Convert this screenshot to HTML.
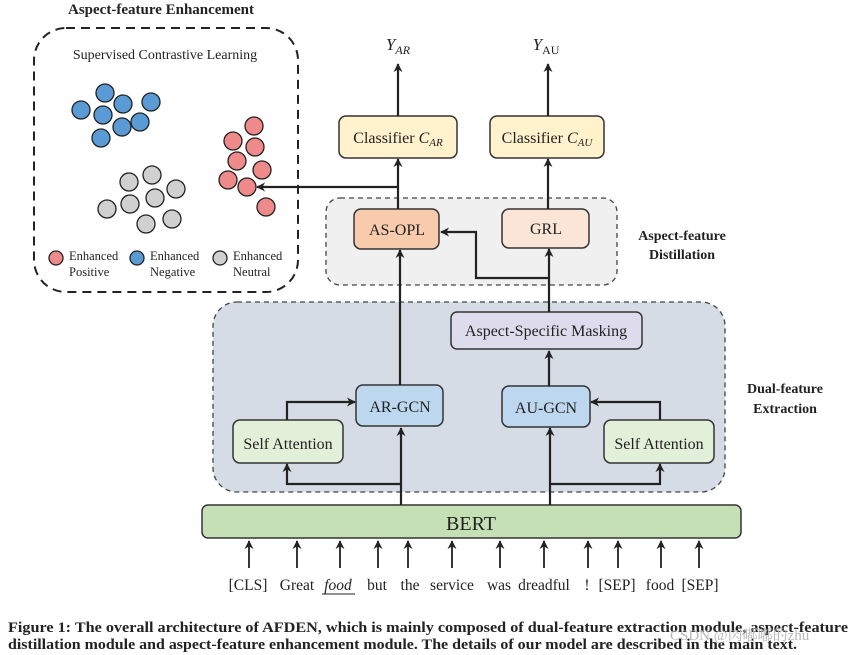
<!DOCTYPE html>
<html><head><meta charset="utf-8"><style>
html,body{margin:0;padding:0;background:#fff;}
svg{display:block;}
text{font-family:"Liberation Serif","Noto Serif CJK SC",serif;fill:#222;}
</style></head><body>
<svg width="854" height="655" viewBox="0 0 854 655" xmlns="http://www.w3.org/2000/svg">
<defs>
<marker id="ah" viewBox="0 0 10 10" refX="9" refY="5" markerWidth="9" markerHeight="9" markerUnits="userSpaceOnUse" orient="auto">
<path d="M0,0 L10,5 L0,10 L3,5 z" fill="#222"/></marker>
</defs>
<text x="161" y="14" text-anchor="middle" font-weight="bold" font-size="15">Aspect-feature Enhancement</text>
<rect x="34" y="28" width="264" height="264" rx="32" fill="none" stroke="#222" stroke-width="2" stroke-dasharray="9,6"/>
<text x="165" y="59" text-anchor="middle" font-size="14">Supervised Contrastive Learning</text>
<g stroke="#222" stroke-width="1.3">
<g fill="#5b9bd5">
<circle cx="81" cy="110" r="9"/><circle cx="105" cy="93" r="9"/><circle cx="123" cy="104" r="9"/><circle cx="151" cy="102" r="9"/><circle cx="103" cy="115" r="9"/><circle cx="122" cy="127" r="9"/><circle cx="140" cy="122" r="9"/><circle cx="101" cy="138" r="9"/>
</g>
<g fill="#d0d0d0">
<circle cx="129" cy="182" r="9"/><circle cx="152" cy="175" r="9"/><circle cx="176" cy="189" r="9"/><circle cx="155" cy="198" r="9"/><circle cx="130" cy="204" r="9"/><circle cx="107" cy="209" r="9"/><circle cx="172" cy="219" r="9"/><circle cx="146" cy="224" r="9"/>
</g>
<g fill="#ee8a8a">
<circle cx="254" cy="126" r="9"/><circle cx="233" cy="141" r="9"/><circle cx="255" cy="147" r="9"/><circle cx="237" cy="161" r="9"/><circle cx="262" cy="170" r="9"/><circle cx="228" cy="180" r="9"/><circle cx="247" cy="187" r="9"/><circle cx="266" cy="207" r="9"/>
</g>
<circle cx="56" cy="258" r="7" fill="#ee8a8a"/><circle cx="137" cy="258" r="7" fill="#5b9bd5"/><circle cx="220" cy="258" r="7" fill="#d0d0d0"/>
</g>
<g font-size="12.5">
<text x="69" y="260">Enhanced</text><text x="69" y="276">Positive</text>
<text x="150" y="260">Enhanced</text><text x="150" y="276">Negative</text>
<text x="233" y="260">Enhanced</text><text x="233" y="276">Neutral</text>
</g>
<rect x="326" y="198" width="291" height="87" rx="14" fill="#f0f0f0" stroke="#444" stroke-width="1.3" stroke-dasharray="5,4"/>
<text x="682" y="240" text-anchor="middle" font-weight="bold" font-size="14">Aspect-feature</text>
<text x="682" y="259" text-anchor="middle" font-weight="bold" font-size="14">Distillation</text>
<rect x="213" y="302" width="512" height="190" rx="24" fill="#d6dce5" stroke="#444" stroke-width="1.3" stroke-dasharray="5,4"/>
<text x="785" y="393" text-anchor="middle" font-weight="bold" font-size="14">Dual-feature</text>
<text x="785" y="413" text-anchor="middle" font-weight="bold" font-size="14">Extraction</text>
<g stroke="#333" stroke-width="1.5">
<rect x="339" y="116" width="118" height="42" rx="7" fill="#fff2cc"/>
<rect x="490" y="116" width="114" height="42" rx="7" fill="#fff2cc"/>
<rect x="354" y="209" width="85" height="40" rx="7" fill="#f8cbad"/>
<rect x="502" y="209" width="87" height="39" rx="7" fill="#fbe5d6"/>
<rect x="451" y="312" width="191" height="37" rx="6" fill="#dedcec"/>
<rect x="356" y="385" width="87" height="41" rx="7" fill="#bdd7ee"/>
<rect x="502" y="386" width="88" height="41" rx="7" fill="#bdd7ee"/>
<rect x="233" y="420" width="110" height="43" rx="7" fill="#e2efd9"/>
<rect x="604" y="420" width="110" height="43" rx="7" fill="#e2efd9"/>
<rect x="202" y="505" width="539" height="33" rx="6" fill="#c5e0b4"/>
</g>
<g font-size="16" text-anchor="middle">
<text x="398" y="143">Classifier <tspan font-style="italic">C</tspan><tspan font-style="italic" font-size="11" dy="3">AR</tspan></text>
<text x="547" y="143">Classifier <tspan font-style="italic">C</tspan><tspan font-style="italic" font-size="11" dy="3">AU</tspan></text>
<text x="397" y="235">AS-OPL</text>
<text x="546" y="234">GRL</text>
<text x="546" y="336">Aspect-Specific Masking</text>
<text x="400" y="412">AR-GCN</text>
<text x="546" y="413">AU-GCN</text>
<text x="288" y="449">Self Attention</text>
<text x="659" y="449">Self Attention</text>
<text x="471" y="530" font-size="20">BERT</text>
<text x="398" y="50" font-style="italic" font-size="17">Y<tspan font-size="12" dy="4">AR</tspan></text>
<text x="546" y="50" font-size="17"><tspan font-style="italic">Y</tspan><tspan font-size="12" dy="4">AU</tspan></text>
</g>
<g stroke="#222" stroke-width="2.2" fill="none">
<line x1="398" y1="116" x2="398" y2="64" marker-end="url(#ah)"/>
<line x1="548" y1="116" x2="548" y2="64" marker-end="url(#ah)"/>
<line x1="398" y1="209" x2="398" y2="159" marker-end="url(#ah)"/>
<line x1="548" y1="209" x2="548" y2="159" marker-end="url(#ah)"/>
<line x1="398" y1="187" x2="257" y2="187" marker-end="url(#ah)"/>
<line x1="400" y1="385" x2="400" y2="250" marker-end="url(#ah)"/>
<line x1="549" y1="312" x2="549" y2="249" marker-end="url(#ah)"/>
<polyline points="549,278 476,278 476,232 441,232" marker-end="url(#ah)"/>
<line x1="549" y1="386" x2="549" y2="351" marker-end="url(#ah)"/>
<polyline points="287,420 287,402 355,402" marker-end="url(#ah)"/>
<polyline points="660,420 660,402 591,402" marker-end="url(#ah)"/>
<line x1="401" y1="505" x2="401" y2="428" marker-end="url(#ah)"/>
<line x1="550" y1="505" x2="550" y2="428" marker-end="url(#ah)"/>
<polyline points="401,484 287,484 287,464" marker-end="url(#ah)"/>
<polyline points="550,484 660,484 660,464" marker-end="url(#ah)"/>
</g>
<g stroke="#222" stroke-width="1.8">
<line x1="249" y1="568" x2="249" y2="541" marker-end="url(#ah)"/>
<line x1="297" y1="568" x2="297" y2="541" marker-end="url(#ah)"/>
<line x1="340" y1="568" x2="340" y2="541" marker-end="url(#ah)"/>
<line x1="378" y1="568" x2="378" y2="541" marker-end="url(#ah)"/>
<line x1="408" y1="568" x2="408" y2="541" marker-end="url(#ah)"/>
<line x1="452" y1="568" x2="452" y2="541" marker-end="url(#ah)"/>
<line x1="500" y1="568" x2="500" y2="541" marker-end="url(#ah)"/>
<line x1="544" y1="568" x2="544" y2="541" marker-end="url(#ah)"/>
<line x1="588" y1="568" x2="588" y2="541" marker-end="url(#ah)"/>
<line x1="618" y1="568" x2="618" y2="541" marker-end="url(#ah)"/>
<line x1="661" y1="568" x2="661" y2="541" marker-end="url(#ah)"/>
<line x1="699" y1="568" x2="699" y2="541" marker-end="url(#ah)"/>
</g>
<g font-size="15.5" text-anchor="middle">
<text x="248" y="590">[CLS]</text><text x="297" y="590">Great</text><text x="338" y="590" font-style="italic">food</text>
<text x="377" y="590">but</text><text x="410" y="590">the</text><text x="452" y="590">service</text>
<text x="499" y="590">was</text><text x="544" y="590">dreadful</text><text x="587" y="590">!</text>
<text x="617" y="590">[SEP]</text><text x="660" y="590">food</text><text x="700" y="590">[SEP]</text>
</g>
<line x1="322" y1="594" x2="355" y2="594" stroke="#222" stroke-width="1"/>
<text x="8" y="632" font-weight="bold" font-size="15" textLength="840" lengthAdjust="spacingAndGlyphs">Figure 1: The overall architecture of AFDEN, which is mainly composed of dual-feature extraction module, aspect-feature</text>
<text x="8" y="649" font-weight="bold" font-size="15" textLength="789" lengthAdjust="spacingAndGlyphs">distillation module and aspect-feature enhancement module. The details of our model are described in the main text.</text>
<text x="670" y="640" font-size="15" style="fill:#b8b8b8" font-family="Liberation Sans, Noto Sans CJK SC, sans-serif">CSDN @肉嘟嘟的zhu</text>
</svg>
</body></html>
